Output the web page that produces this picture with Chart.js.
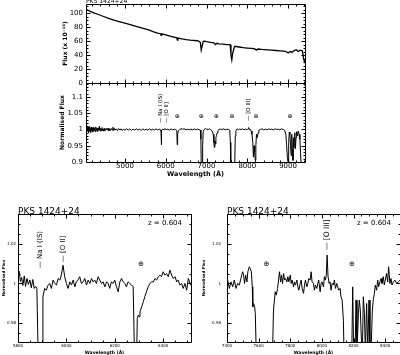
<!DOCTYPE html>
<html><head><meta charset="utf-8">
<script src="https://cdn.jsdelivr.net/npm/chart.js@4/dist/chart.umd.min.js"></script>
<style>
html,body{margin:0;padding:0;background:#fff;}
#wrap{position:relative;width:400px;height:355px;overflow:hidden;background:#fff;}
canvas{position:absolute;left:0;top:0;}
</style></head><body>
<div id="wrap">
<canvas id="cA" width="400" height="355"></canvas>
<canvas id="cB" width="400" height="355"></canvas>
<canvas id="cC" width="400" height="355"></canvas>
<canvas id="cD" width="400" height="355"></canvas>
</div>
<script>
// ---------- DATA ----------
const objectName = 'PKS 1424+24';
const redshiftLabel = 'z = 0.604';

// Top panel: flux (x 10^-16) vs wavelength (Å)
const waveA = [4045,4150,4250,4350,4460,4600,4750,4880,5000,5150,
  5294,5450,5600,5687,5800,5870,5890,5900,6000,6104,
  6200,6270,6285,6300,6400,6500,6600,6700,6800,6850,
  6870,6890,6920,6960,7000,7100,7180,7220,7260,7300,
  7400,7500,7580,7600,7620,7640,7680,7700,7800,7900,
  8000,8100,8180,8220,8260,8350,8500,8600,8700,8800,
  8900,8950,9000,9050,9100,9150,9200,9250,9300,9350,
  9380,9400,9415];
const fluxA = [105.5,102.5,100,98,95.5,92.5,89.5,87.5,85.5,83,
  80.5,78,75.5,73.5,71.5,70.5,68,70.3,69,67,
  65.5,64.5,61.5,64.2,63,62,61.2,60.8,60.3,58,
  47,52,59.5,60,59.2,58,57.5,55,57,56,
  55.5,55,54.8,40,33,42,51,52.5,51.5,50.5,
  50,49.5,49,47,48.6,48,47.5,47,46.5,46,
  45.5,45,43,45,44,46.5,47.5,45,47,46,
  35,31,34];

// Second panel: normalised flux
const waveB = [4045,4055,4065,4075,4085,4095,4105,4115,4125,4135,
  4145,4155,4165,4175,4185,4195,4210,4225,4240,4255,
  4270,4285,4300,4315,4330,4345,4360,4375,4390,4405,
  4420,4435,4450,4465,4485,4505,4525,4545,4565,4585,
  4605,4625,4645,4665,4685,4705,4725,4745,4765,4785,
  4815,4845,4875,4905,4935,4965,5000,5040,5080,5120,
  5160,5200,5240,5280,5320,5360,5400,5440,5480,5520,
  5560,5600,5640,5680,5720,5760,5800,5840,5875,5885,
  5892,5900,5930,5960,5985,6010,6050,6090,6130,6170,
  6210,6250,6272,6282,6292,6310,6340,6380,6420,6460,
  6500,6540,6580,6620,6660,6700,6740,6780,6820,6850,
  6862,6872,6895,6905,6918,6940,6970,7000,7040,7080,
  7110,7140,7165,7180,7192,7205,7215,7230,7245,7260,
  7280,7310,7340,7380,7420,7460,7500,7540,7570,7585,
  7595,7690,7705,7720,7750,7780,7810,7850,7880,7920,
  7960,8000,8020,8031,8045,8070,8095,8115,8135,8150,
  8165,8180,8195,8210,8225,8245,8265,8285,8320,8360,
  8400,8440,8480,8520,8560,8600,8640,8680,8720,8760,
  8800,8840,8880,8920,8945,8965,8985,9000,9015,9030,
  9045,9060,9075,9090,9105,9120,9135,9150,9165,9180,
  9195,9210,9230,9250,9270,9290,9305,9320,9335];
const normB = [1.000,1.012,0.992,1.006,0.995,1.008,0.990,1.004,0.996,1.009,
  0.993,1.003,0.991,1.007,0.997,1.005,0.992,1.006,0.996,1.004,
  0.993,1.008,0.997,1.003,0.994,1.005,0.998,1.010,0.995,1.003,
  0.996,1.006,0.997,1.002,0.995,1.004,0.997,1.003,0.998,1.004,
  0.996,1.002,0.997,1.003,0.998,1.007,0.997,1.003,0.998,1.002,
  0.997,1.003,0.998,1.002,0.997,1.001,0.998,1.002,0.998,1.002,
  0.997,1.001,0.998,1.002,0.998,1.001,0.997,1.002,0.998,1.001,
  0.998,1.002,0.998,1.001,0.998,1.002,0.999,1.001,0.999,0.990,
  0.953,0.998,1.001,0.999,1.003,0.999,1.001,0.998,1.002,0.999,
  1.001,0.999,0.997,0.953,0.985,0.996,1.000,1.002,1.001,1.002,
  0.999,1.001,0.999,1.001,0.999,1.002,0.999,1.001,0.999,0.998,
  0.970,0.880,0.880,0.950,0.993,1.000,1.003,1.001,1.000,1.002,
  0.998,0.995,0.985,0.960,0.945,0.965,0.955,0.975,0.982,0.990,
  0.997,1.000,1.001,1.000,1.002,0.999,1.001,1.000,0.998,0.960,
  0.880,0.880,0.980,0.996,1.002,0.999,1.001,1.000,1.002,0.999,
  1.001,1.000,1.002,1.006,1.000,1.001,0.995,0.985,0.960,0.915,
  0.950,0.930,0.905,0.950,0.985,0.975,0.990,0.998,1.000,1.002,
  0.999,1.001,0.999,1.002,1.000,1.001,0.999,1.002,1.000,1.001,
  0.999,1.002,1.000,0.997,0.985,0.950,0.910,0.900,0.960,0.992,
  0.985,0.950,0.920,0.985,0.940,0.905,0.975,0.945,0.990,0.940,
  0.975,0.993,0.980,0.995,0.985,0.970,0.930,0.890,0.880];

// Bottom-left panel: 5800-6520 Å zoom
const waveC = [5800,5805,5810,5815,5820,5826,5831,5837,5843,5849,
  5855,5861,5867,5873,5878,5884,5900,5903,5910,5917,
  5924,5931,5938,5945,5952,5959,5966,5973,5979,5986,
  5993,6000,6007,6014,6021,6028,6035,6041,6048,6055,
  6062,6069,6076,6083,6090,6097,6104,6110,6117,6124,
  6131,6138,6145,6152,6159,6166,6173,6179,6186,6193,
  6200,6207,6214,6221,6228,6235,6242,6248,6255,6262,
  6269,6276,6282,6290,6293,6297,6301,6304,6311,6318,
  6324,6331,6338,6345,6352,6359,6366,6373,6380,6387,
  6393,6400,6407,6414,6421,6428,6435,6442,6449,6456,
  6462,6469,6476,6483,6490,6497,6504,6511,6518];
const normC = [1.0055,1.0062,1.0010,1.0030,0.9990,1.0038,0.9985,1.0025,0.9995,1.0018,
  0.9978,1.0020,0.9975,0.9985,0.9975,0.9600,0.9600,0.9933,0.9975,0.9966,
  0.9990,1.0000,0.9975,1.0017,1.0000,0.9992,1.0025,1.0017,1.0042,1.0092,
  1.0034,1.0000,0.9975,1.0008,0.9992,1.0017,0.9983,1.0008,1.0017,1.0034,
  1.0000,1.0008,1.0025,0.9992,1.0017,1.0000,1.0025,1.0008,1.0017,1.0000,
  1.0034,1.0017,1.0000,1.0008,0.9983,1.0008,1.0000,0.9975,1.0008,1.0000,
  1.0017,0.9983,0.9958,1.0008,1.0025,1.0008,1.0000,0.9983,1.0008,1.0000,
  0.9992,0.9983,0.9600,0.9600,0.9824,0.9840,0.9832,0.9857,0.9882,0.9908,
  0.9933,0.9958,0.9983,1.0000,1.0008,1.0008,1.0025,1.0017,1.0034,1.0042,
  1.0034,1.0059,1.0042,1.0050,1.0034,1.0067,1.0042,1.0025,1.0034,1.0008,
  1.0017,0.9992,1.0000,0.9975,1.0000,0.9966,1.0025,1.0000,0.9985];

// Bottom-right panel: 7400-8490 Å zoom
const waveD = [7404,7415,7425,7436,7446,7457,7467,7478,7488,7499,
  7505,7511,7518,7526,7532,7541,7547,7554,7560,7562,
  7564,7568,7575,7579,7585,7684,7688,7694,7705,7711,
  7720,7726,7732,7739,7745,7751,7758,7764,7770,7779,
  7785,7791,7800,7806,7812,7821,7827,7833,7842,7848,
  7854,7863,7869,7875,7884,7890,7896,7905,7911,7917,
  7926,7932,7938,7947,7953,7959,7968,7974,7980,7989,
  7995,8001,8010,8016,8022,8028,8033,8039,8046,8052,
  8058,8065,8073,8079,8086,8094,8100,8107,8115,8121,
  8128,8136,8140,8189,8195,8201,8210,8216,8222,8231,
  8237,8243,8250,8256,8262,8269,8275,8283,8290,8298,
  8304,8311,8319,8325,8332,8338,8346,8353,8359,8367,
  8374,8380,8388,8395,8401,8409,8416,8422,8430,8437,
  8443,8452,8462,8473,8483,8494];
const normD = [1.0017,0.9975,1.0008,0.9983,1.0017,0.9975,1.0000,0.9992,1.0025,1.0059,
  1.0042,1.0000,1.0042,1.0008,1.0059,1.0084,1.0076,1.0059,0.9983,0.9916,
  0.9882,0.9899,0.9882,0.9849,0.9650,0.9650,0.9650,0.9866,0.9958,0.9941,
  0.9975,1.0017,1.0059,1.0008,1.0042,1.0000,1.0050,1.0017,1.0025,1.0008,
  1.0034,1.0008,1.0042,1.0000,1.0017,0.9983,1.0008,0.9992,1.0017,0.9983,
  0.9966,1.0000,1.0017,0.9975,0.9950,0.9992,1.0017,0.9983,1.0000,1.0025,
  1.0017,1.0059,1.0008,1.0000,0.9966,0.9992,0.9975,1.0000,1.0017,0.9958,
  1.0000,1.0008,0.9983,1.0034,1.0017,1.0042,1.0143,1.0034,1.0000,1.0008,
  0.9966,1.0000,0.9992,1.0017,0.9975,1.0000,0.9983,0.9966,0.9975,0.9933,
  0.9916,0.9815,0.9650,0.9650,0.9983,0.9650,0.9650,0.9916,0.9650,0.9849,
  0.9916,0.9866,0.9714,0.9650,0.9933,0.9849,0.9650,0.9899,0.9650,0.9916,
  0.9650,0.9650,0.9866,0.9916,0.9950,0.9992,0.9966,1.0017,0.9983,1.0008,
  1.0025,1.0000,1.0034,0.9992,1.0017,1.0050,1.0008,1.0084,1.0000,1.0025,
  0.9992,1.0008,1.0017,1.0000,1.0008,1.0017];

// Spectral line identifications (observed wavelengths, Å)
const lineNames = ['Na I (IS)', '[O II]', '[O III]'];
const lineWaves = [5892, 5978, 8031];
// Telluric absorption marks (Å)
const telluricB = [6280, 6870, 7240, 7625, 8215, 9050];
const telluricC = [6308];
const telluricD = [7650, 8190];

// Axis tick labels
const xTicksAB = [5000, 6000, 7000, 8000, 9000];
const yTicksA = [0, 20, 40, 60, 80, 100];
const yTicksB = [0.9, 0.95, 1, 1.05, 1.1];
const xTicksC = [5800, 6000, 6200, 6400];
const xTicksD = [7400, 7600, 7800, 8000, 8200, 8400];
const yTicksCD = [0.98, 1, 1.02];

// ---------- RENDERING ----------
const FAM = "'DejaVu Sans', sans-serif";
const pts = (w, v) => w.map((x, i) => ({x: x, y: v[i]}));

function minorValues(min, max, step, majors) {
  const out = [];
  for (let k = Math.ceil(min / step - 1e-9); k * step <= max + 1e-9; k++) {
    const v = k * step;
    if (!majors.some(m => Math.abs(m - v) < step * 0.01)) out.push(v);
  }
  return out;
}

function frameTicks(t) {
  return { id: 'frameTicks', afterDatasetsDraw(chart) {
    const {ctx, chartArea: a, scales: {x, y}} = chart;
    const L = Math.round(a.left), R = Math.round(a.right), T = Math.round(a.top), B = Math.round(a.bottom);
    ctx.save(); ctx.strokeStyle = '#000'; ctx.lineWidth = 1; ctx.beginPath();
    ctx.rect(L + 0.5, T + 0.5, R - L, B - T);
    const xt = (v, len) => { const p = Math.round(x.getPixelForValue(v)) + 0.5;
      ctx.moveTo(p, B + 0.5); ctx.lineTo(p, B + 0.5 - len); ctx.moveTo(p, T + 0.5); ctx.lineTo(p, T + 0.5 + len); };
    const yt = (v, len) => { const p = Math.round(y.getPixelForValue(v)) + 0.5;
      ctx.moveTo(L + 0.5, p); ctx.lineTo(L + 0.5 + len, p); ctx.moveTo(R + 0.5, p); ctx.lineTo(R + 0.5 - len, p); };
    t.xMajor.forEach(v => xt(v, t.maj));
    minorValues(x.min, x.max, t.xMinor, t.xMajor).forEach(v => xt(v, t.mn));
    t.yMajor.forEach(v => yt(v, t.maj));
    minorValues(y.min, y.max, t.yMinor, t.yMajor).forEach(v => yt(v, t.mn));
    ctx.stroke(); ctx.restore();
  }};
}

function marks(items) {
  return { id: 'marks', afterDatasetsDraw(chart) {
    const {ctx, scales: {x, y}, chartArea: a} = chart;
    ctx.save(); ctx.fillStyle = '#000';
    items.forEach(m => {
      let px, py;
      if (m.rel) { px = m.rx >= 0 ? a.left + m.rx : a.right + m.rx; py = a.top + m.ry; }
      else { px = x.getPixelForValue(m.x) + (m.dx || 0); py = y.getPixelForValue(m.y) + (m.dy || 0); }
      ctx.save(); ctx.translate(px, py);
      if (m.rot) ctx.rotate(m.rot * Math.PI / 180);
      ctx.font = m.font; ctx.textAlign = m.align || 'center'; ctx.textBaseline = 'middle';
      ctx.fillText(m.text, 0, 0);
      ctx.restore();
    });
    ctx.restore();
  }};
}

function panel(id, o) {
  return new Chart(document.getElementById(id), {
    type: 'line',
    data: { datasets: [{ data: o.points, borderColor: '#000', borderWidth: o.lw || 1,
      pointRadius: 0, tension: 0, fill: false, clip: 0 }] },
    options: {
      responsive: false, animation: false, devicePixelRatio: 1, events: [],
      layout: { padding: o.pad },
      plugins: { legend: {display: false}, tooltip: {enabled: false} },
      scales: {
        x: { type: 'linear', min: o.xmin, max: o.xmax,
          grid: {display: false, drawTicks: false}, border: {display: false},
          afterBuildTicks: s => { s.ticks = o.xTicks.map(v => ({value: v})); },
          ticks: { display: o.xLabels, color: '#000', padding: o.xPad, autoSkip: false,
            maxRotation: 0, minRotation: 0, font: {family: FAM, size: o.tickSize, lineHeight: 1},
            callback: v => String(v) },
          title: o.xTitle ? { display: true, text: 'Wavelength (Å)', color: '#000',
            font: {family: FAM, size: o.xTitle.size, weight: 'bold', lineHeight: 1},
            padding: {top: 0, bottom: o.xTitle.pb} } : {display: false},
          afterFit: s => { s.height = o.xH; s.paddingLeft = 0; s.paddingRight = 0; } },
        y: { type: 'linear', min: o.ymin, max: o.ymax,
          grid: {display: false, drawTicks: false}, border: {display: false},
          afterBuildTicks: s => { s.ticks = o.yTicks.map(v => ({value: v})); },
          ticks: { display: true, color: '#000', padding: o.yPad, autoSkip: false,
            font: {family: FAM, size: o.tickSize, lineHeight: 1}, callback: v => String(v) },
          title: { display: true, text: o.yTitle.text, color: '#000',
            font: {family: FAM, size: o.yTitle.size, weight: 'bold', lineHeight: 1},
            padding: {top: o.yTitle.pt, bottom: 0} },
          afterFit: s => { s.width = o.yW; s.paddingTop = 0; s.paddingBottom = 0; } }
      }
    },
    plugins: [frameTicks(o.ticks), marks(o.marks)]
  });
}

const dash = '— ';
// Panel A: flux
panel('cA', {
  points: pts(waveA, fluxA), lw: 1.3,
  pad: {left: 0, top: 4, right: 95, bottom: 272},
  xmin: 4045, xmax: 9415, ymin: 0, ymax: 113,
  xTicks: xTicksAB, xLabels: false, xPad: 1, xH: 0,
  yTicks: yTicksA, yPad: 3, yW: 86, tickSize: 7,
  yTitle: {text: 'Flux (x 10⁻¹⁶)', size: 6, pt: 62.5},
  ticks: {xMajor: xTicksAB, xMinor: 200, yMajor: yTicksA, yMinor: 5, maj: 4, mn: 2},
  marks: [{rel: true, rx: 0, ry: -3, text: objectName, font: '6px ' + FAM, align: 'left'}]
});

// Panel B: normalised flux
const marksB = [
  {x: lineWaves[0], y: 1.02, dx: -1, rot: -90, align: 'left', text: dash + lineNames[0], font: '5.5px ' + FAM},
  {x: lineWaves[1], y: 1.02, dx: 1.5, rot: -90, align: 'left', text: dash + lineNames[1], font: '5.5px ' + FAM},
  {x: lineWaves[2], y: 1.026, rot: -90, align: 'left', text: dash + lineNames[2], font: '5.5px ' + FAM}
].concat(telluricB.map(w => ({x: w, y: 1.0415, text: '⊕', font: '6px ' + FAM})));
panel('cB', {
  points: pts(waveB, normB),
  pad: {left: 0, top: 83, right: 95, bottom: 175},
  xmin: 4045, xmax: 9415, ymin: 0.9, ymax: 1.143,
  xTicks: xTicksAB, xLabels: true, xPad: 1, xH: 18,
  xTitle: {size: 6.5, pb: 2.25},
  yTicks: yTicksB, yPad: 3, yW: 86, tickSize: 7,
  yTitle: {text: 'Normalised Flux', size: 6, pt: 59},
  ticks: {xMajor: xTicksAB, xMinor: 200, yMajor: yTicksB, yMinor: 0.01, maj: 4, mn: 2},
  marks: marksB
});

// Panel C
const marksC = [
  {x: lineWaves[0], y: 1.0077, rot: -90, align: 'left', text: dash + lineNames[0], font: '7px ' + FAM},
  {x: lineWaves[1], y: 1.0107, dx: 2, rot: -90, align: 'left', text: dash + lineNames[1], font: '7px ' + FAM},
  {rel: true, rx: 0, ry: -2.5, text: objectName, font: '9px ' + FAM, align: 'left'},
  {rel: true, rx: -9, ry: 9, text: redshiftLabel, font: '7px ' + FAM, align: 'right'}
].concat(telluricC.map(w => ({x: w, y: 1.0097, text: '⊕', font: '7px ' + FAM})));
panel('cC', {
  points: pts(waveC, normC),
  pad: {left: 0, top: 214, right: 209, bottom: 0},
  xmin: 5800, xmax: 6515, ymin: 0.9705, ymax: 1.035,
  xTicks: xTicksC, xLabels: true, xPad: 1.5, xH: 13,
  xTitle: {size: 4.5, pb: 0},
  yTicks: yTicksCD, yPad: 2, yW: 18, tickSize: 4,
  yTitle: {text: 'Normalised Flux', size: 4, pt: 1.5},
  ticks: {xMajor: xTicksC, xMinor: 50, yMajor: yTicksCD, yMinor: 0.005, maj: 4, mn: 2},
  marks: marksC
});

// Panel D
const marksD = [
  {x: lineWaves[2], y: 1.0168, rot: -90, align: 'left', text: dash + lineNames[2], font: '7.5px ' + FAM},
  {rel: true, rx: 0, ry: -2.5, text: objectName, font: '9px ' + FAM, align: 'left'},
  {rel: true, rx: -9, ry: 9, text: redshiftLabel, font: '7px ' + FAM, align: 'right'}
].concat(telluricD.map(w => ({x: w, y: 1.0099, text: '⊕', font: '7px ' + FAM})));
panel('cD', {
  points: pts(waveD, normD),
  pad: {left: 0, top: 214, right: 0, bottom: 0},
  xmin: 7400, xmax: 8494, ymin: 0.9705, ymax: 1.035,
  xTicks: xTicksD, xLabels: true, xPad: 1.5, xH: 13,
  xTitle: {size: 4.5, pb: 0},
  yTicks: yTicksCD, yPad: 6, yW: 227, tickSize: 4,
  yTitle: {text: 'Normalised Flux', size: 4, pt: 202},
  ticks: {xMajor: xTicksD, xMinor: 50, yMajor: yTicksCD, yMinor: 0.005, maj: 4, mn: 2},
  marks: marksD
});
</script>
</body></html>
